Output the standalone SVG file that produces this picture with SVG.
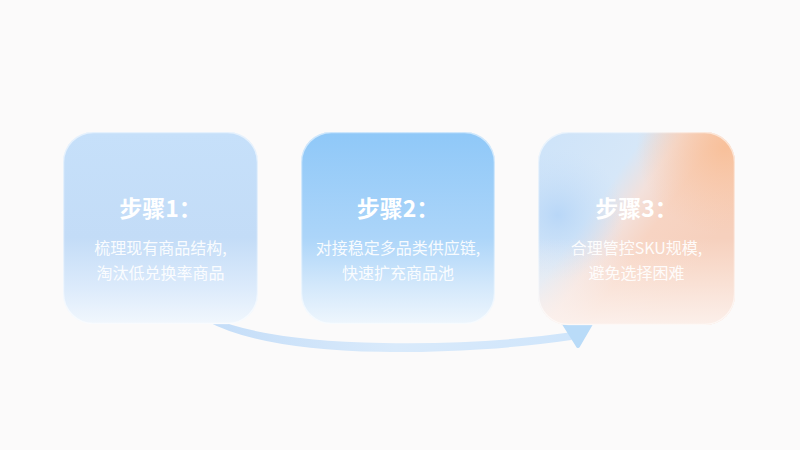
<svg xmlns="http://www.w3.org/2000/svg" width="800" height="450" viewBox="0 0 800 450">
<defs>
<style>
.title{font-family:"Noto Sans CJK SC","Noto Sans",sans-serif;font-weight:700;font-size:23px;fill:#ffffff;text-anchor:middle}
.body{font-family:"Noto Sans CJK SC","Noto Sans",sans-serif;font-size:16px;fill:#ffffff;fill-opacity:0.93;text-anchor:middle}
.edge{fill:none;stroke:#ffffff;stroke-opacity:0.55;stroke-width:1.5}
</style>
<linearGradient id="g1" x1="0" y1="0" x2="0" y2="1">
<stop offset="0" stop-color="#c6e0fa"/>
<stop offset="0.55" stop-color="#c3dcf7"/>
<stop offset="0.8" stop-color="#dbeafb"/>
<stop offset="1" stop-color="#f1f7fd"/>
</linearGradient>
<linearGradient id="g2" x1="0" y1="0" x2="0" y2="1">
<stop offset="0" stop-color="#8fc8f8"/>
<stop offset="0.55" stop-color="#acd5f9"/>
<stop offset="0.8" stop-color="#d3e8fb"/>
<stop offset="1" stop-color="#eef6fd"/>
</linearGradient>
<linearGradient id="g3" x1="0" y1="0.15" x2="0.8" y2="0.7">
<stop offset="0" stop-color="#cfe4f9"/>
<stop offset="0.38" stop-color="#d6e7f8"/>
<stop offset="0.54" stop-color="#f3e1dc"/>
<stop offset="0.7" stop-color="#f7d4c3"/>
<stop offset="1" stop-color="#f6d0bd"/>
</linearGradient>
<radialGradient id="p3" cx="0.95" cy="0.08" r="0.45">
<stop offset="0" stop-color="#f8bf98" stop-opacity="0.95"/>
<stop offset="1" stop-color="#f8c6a6" stop-opacity="0"/>
</radialGradient>
<radialGradient id="b3" cx="0.1" cy="0.43" r="0.34">
<stop offset="0" stop-color="#b7d6f7" stop-opacity="0.95"/>
<stop offset="1" stop-color="#c9e0f8" stop-opacity="0"/>
</radialGradient>
<linearGradient id="w3" x1="0" y1="0" x2="0" y2="1">
<stop offset="0.55" stop-color="#fdf3ee" stop-opacity="0"/>
<stop offset="1" stop-color="#fcf2ee" stop-opacity="0.92"/>
</linearGradient>
<linearGradient id="ga" x1="210" y1="0" x2="580" y2="0" gradientUnits="userSpaceOnUse">
<stop offset="0" stop-color="#c4ddf8"/>
<stop offset="0.5" stop-color="#d9eafb"/>
<stop offset="1" stop-color="#cfe5fb"/>
</linearGradient>
</defs>
<rect width="800" height="450" fill="#fbfafa"/>
<g id="connectors">
<path d="M 207 320 C 285 362, 470 354, 571 339 L 573 333 C 470 348, 290 352, 212 319 Z" fill="url(#ga)" stroke="url(#ga)" stroke-width="2" stroke-linejoin="round"/>
<polygon points="561,319 592,322 578,346" fill="#b9dbf8" stroke="#b9dbf8" stroke-width="4" stroke-linejoin="round"/>
</g>
<g id="step1">
<rect x="63" y="132" width="195" height="192" rx="30" fill="url(#g1)"/>
<rect x="63.5" y="132.5" width="194" height="191" rx="30" class="edge"/>
<text class="title" x="160.5" y="217">步骤1：</text>
<text class="body" x="160.5" y="254">梳理现有商品结构,</text>
<text class="body" x="160.5" y="279">淘汰低兑换率商品</text>
</g>
<g id="step2">
<rect x="301" y="132" width="194" height="192" rx="30" fill="url(#g2)"/>
<rect x="301.5" y="132.5" width="193" height="191" rx="30" class="edge"/>
<text class="title" x="398" y="217">步骤2：</text>
<text class="body" x="398" y="254">对接稳定多品类供应链,</text>
<text class="body" x="398" y="279">快速扩充商品池</text>
</g>
<g id="step3">
<rect x="538" y="132" width="197" height="193" rx="30" fill="url(#g3)"/>
<rect x="538" y="132" width="197" height="193" rx="30" fill="url(#p3)"/>
<rect x="538" y="132" width="197" height="193" rx="30" fill="url(#b3)"/>
<rect x="538" y="132" width="197" height="193" rx="30" fill="url(#w3)"/>
<rect x="538.5" y="132.5" width="196" height="192" rx="30" class="edge"/>
<text class="title" x="636.5" y="217">步骤3：</text>
<text class="body" x="636.5" y="254">合理管控SKU规模,</text>
<text class="body" x="636.5" y="279">避免选择困难</text>
</g>
</svg>
